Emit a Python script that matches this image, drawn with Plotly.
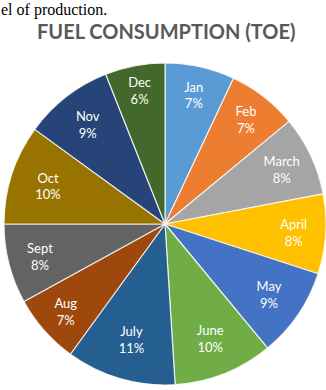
import plotly.graph_objects as go

months = ["Jan", "Feb", "March", "April", "May", "June", "July", "Aug", "Sept", "Oct", "Nov", "Dec"]
shares = [7, 7, 8, 8, 9, 10, 11, 7, 8, 10, 9, 6]
colors = ["#5B9BD5", "#ED7D31", "#A5A5A5", "#FFC000", "#4472C4", "#70AD47",
          "#255E91", "#9E480E", "#636363", "#997300", "#264478", "#43682B"]
title_text = "FUEL CONSUMPTION (TOE)"
caption_text = "el of production."

W, H = 326, 390
cx, cy, r = 165, 224, 161

fig = go.Figure(go.Pie(
    labels=months,
    values=shares,
    sort=False,
    direction="clockwise",
    rotation=0,
    marker=dict(colors=colors, line=dict(color="rgba(255,255,255,0.8)", width=1.2)),
    texttemplate="%{label}<br>%{percent:.0%}",
    textposition="inside",
    insidetextorientation="horizontal",
    insidetextfont=dict(family="Lato, Open Sans, sans-serif", size=13, color="white"),
    showlegend=False,
    hoverinfo="label+percent",
    domain=dict(x=[(cx - r) / W, (cx + r) / W], y=[(H - cy - r) / H, (H - cy + r) / H]),
))

fig.update_layout(
    width=W, height=H,
    margin=dict(l=0, r=0, t=0, b=0),
    paper_bgcolor="white",
    plot_bgcolor="white",
    annotations=[
        dict(text=title_text, x=166 / W, y=1 - 31 / H, xref="paper", yref="paper",
             xanchor="center", yanchor="middle", showarrow=False,
             font=dict(family="Lato, Open Sans, sans-serif", size=20, color="#595959", weight="bold")),
        dict(text=caption_text, x=0, y=1, xref="paper", yref="paper",
             xanchor="left", yanchor="top", showarrow=False, borderpad=0,
             font=dict(family="Liberation Serif, serif", size=16, color="black")),
    ],
)

fig.write_html("out.html")
